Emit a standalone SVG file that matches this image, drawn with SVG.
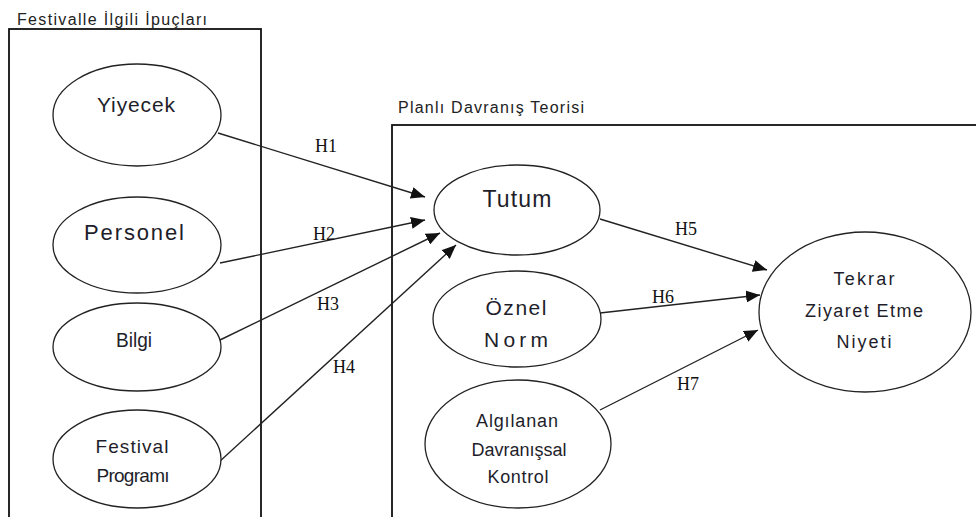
<svg xmlns="http://www.w3.org/2000/svg" width="976" height="517" viewBox="0 0 976 517">
  <style>
    .frame { fill: none; stroke: #111; stroke-width: 1.8; }
    .title { font-family: "Liberation Sans", Arial, sans-serif; font-size: 16px; fill: #222; }
    .node ellipse { fill: #fff; stroke: #222; stroke-width: 1.3; }
    .node text { font-family: "Liberation Sans", Arial, sans-serif; fill: #1e1e2a; text-anchor: middle; }
    .edge { stroke: #222; stroke-width: 1.4; fill: none; marker-end: url(#arrow); }
    .hlabel { font-family: "Liberation Serif", "Times New Roman", serif; font-size: 18px; fill: #111; }
  </style>
  <defs>
    <marker id="arrow" markerUnits="userSpaceOnUse" markerWidth="14" markerHeight="12" viewBox="0 0 14 12" refX="14" refY="6" orient="auto">
      <path d="M0,0 L14,6 L0,12 Z" fill="#111"/>
    </marker>
  </defs>

  <rect width="976" height="517" fill="#fff"/>

  <!-- group frames -->
  <g id="frames">
    <rect class="frame" x="9" y="29" width="252" height="520"/>
    <text class="title" x="17" y="25" textLength="190" lengthAdjust="spacing">Festivalle İlgili İpuçları</text>
    <rect class="frame" x="392" y="125" width="600" height="420"/>
    <text class="title" x="398" y="113" textLength="186" lengthAdjust="spacing">Planlı Davranış Teorisi</text>
  </g>

  <!-- connectors -->
  <g id="connectors">
    <line class="edge" x1="218" y1="133" x2="425" y2="197"/>
    <line class="edge" x1="220" y1="263" x2="425" y2="220"/>
    <line class="edge" x1="220" y1="340" x2="440" y2="233"/>
    <line class="edge" x1="219" y1="462" x2="456" y2="245"/>
    <line class="edge" x1="600" y1="219" x2="767" y2="270"/>
    <line class="edge" x1="600" y1="313" x2="760" y2="295"/>
    <line class="edge" x1="600" y1="410" x2="758" y2="330"/>
    <text class="hlabel" x="315" y="152">H1</text>
    <text class="hlabel" x="313" y="240">H2</text>
    <text class="hlabel" x="317" y="310">H3</text>
    <text class="hlabel" x="333" y="373">H4</text>
    <text class="hlabel" x="675" y="235">H5</text>
    <text class="hlabel" x="652" y="303">H6</text>
    <text class="hlabel" x="677" y="390">H7</text>
  </g>

  <!-- festival cues -->
  <g id="yiyecek" class="node">
    <ellipse cx="137" cy="115" rx="84" ry="51"/>
    <text x="136" y="112" font-size="21" textLength="78" lengthAdjust="spacing">Yiyecek</text>
  </g>
  <g id="personel" class="node">
    <ellipse cx="137" cy="245" rx="84" ry="48"/>
    <text x="134" y="240" font-size="22" textLength="100" lengthAdjust="spacing">Personel</text>
  </g>
  <g id="bilgi" class="node">
    <ellipse cx="137" cy="347" rx="84" ry="44"/>
    <text x="134" y="347" font-size="21" textLength="36" lengthAdjust="spacingAndGlyphs">Bilgi</text>
  </g>
  <g id="festival-programi" class="node">
    <ellipse cx="137" cy="459" rx="84" ry="49"/>
    <text x="132" y="453" font-size="19" textLength="73" lengthAdjust="spacing">Festival</text>
    <text x="133" y="482" font-size="19" textLength="73" lengthAdjust="spacing">Programı</text>
  </g>

  <!-- planned behaviour constructs -->
  <g id="tutum" class="node">
    <ellipse cx="517" cy="210" rx="83" ry="45"/>
    <text x="517" y="207" font-size="23" textLength="69" lengthAdjust="spacing">Tutum</text>
  </g>
  <g id="oznel-norm" class="node">
    <ellipse cx="517" cy="319" rx="84" ry="48"/>
    <text x="516" y="315" font-size="21" textLength="61" lengthAdjust="spacing">Öznel</text>
    <text x="516" y="347" font-size="21" textLength="64" lengthAdjust="spacing">Norm</text>
  </g>
  <g id="algilanan-davranissal-kontrol" class="node">
    <ellipse cx="518" cy="444" rx="93" ry="64"/>
    <text x="517" y="427" font-size="18" textLength="82" lengthAdjust="spacing">Algılanan</text>
    <text x="519" y="456" font-size="18" textLength="95" lengthAdjust="spacing">Davranışsal</text>
    <text x="518" y="483" font-size="18" textLength="61" lengthAdjust="spacing">Kontrol</text>
  </g>
  <g id="tekrar-ziyaret-etme-niyeti" class="node">
    <ellipse cx="865" cy="312" rx="106" ry="80"/>
    <text x="864" y="285" font-size="18" textLength="61" lengthAdjust="spacing">Tekrar</text>
    <text x="864" y="317" font-size="18" textLength="118" lengthAdjust="spacing">Ziyaret Etme</text>
    <text x="864" y="348" font-size="18" textLength="55" lengthAdjust="spacing">Niyeti</text>
  </g>
</svg>
